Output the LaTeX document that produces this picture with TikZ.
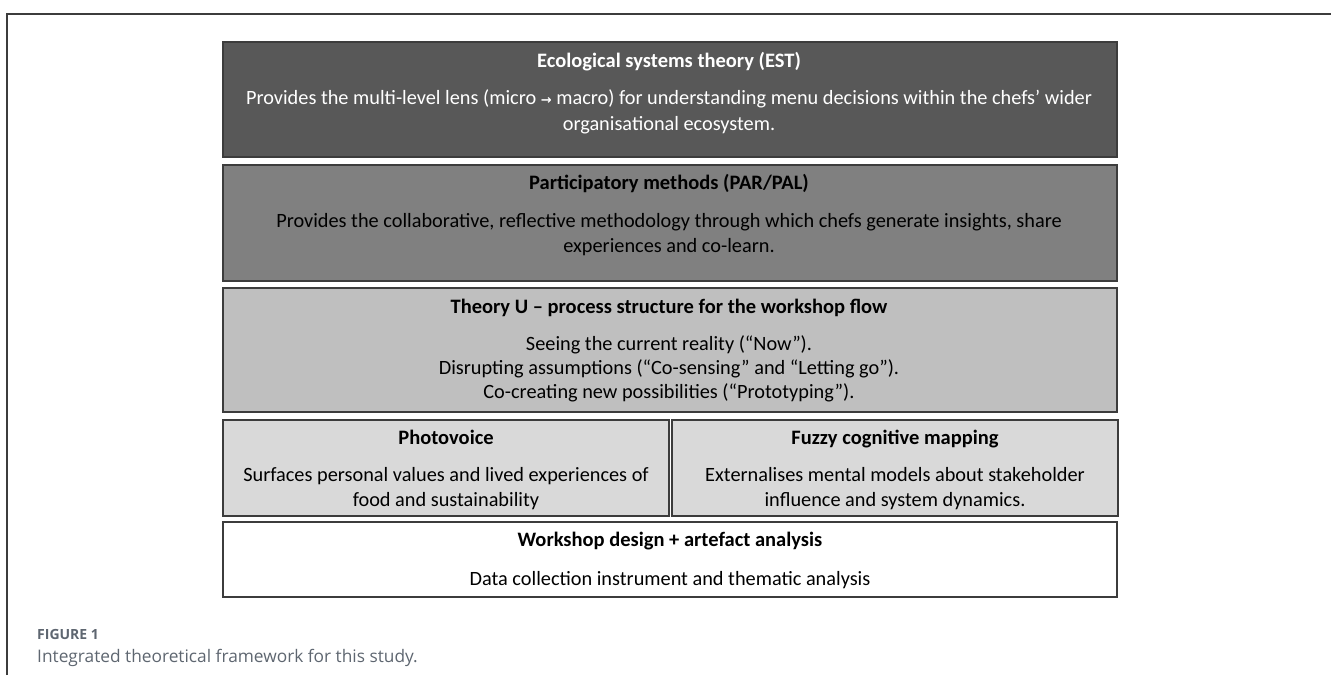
\documentclass[tikz,border=0pt]{standalone}
\usepackage{fontspec}
\usepackage{xcolor}
\setmainfont{Carlito}
\newfontfamily\capfont{Open Sans}
\newfontfamily\arrowfont{DejaVu Sans}
\definecolor{estgrey}{HTML}{585858}
\definecolor{pargrey}{HTML}{808080}
\definecolor{ugrey}{HTML}{BFBFBF}
\definecolor{toolgrey}{HTML}{D9D9D9}
\definecolor{edgegrey}{HTML}{3C3C3C}
\definecolor{capgrey}{HTML}{5E6670}

\begin{document}
\begin{tikzpicture}[x=1pt,y=-1pt,
  layer/.style={draw=edgegrey, line width=1.3pt, inner sep=0pt},
  head/.style={font=\fontsize{20.5}{24}\selectfont\bfseries, inner sep=0pt, anchor=base},
  body/.style={font=\fontsize{20.3}{25}\selectfont, align=center, inner sep=0pt, anchor=base}]
\useasboundingbox (0,0) rectangle (1331,675);
% frame
\draw[edgegrey, line width=1.5pt] (7,675) -- (7,14) -- (1331,14);

% EST (body anchored at its last line)
\node[layer, fill=estgrey, minimum width=894pt, minimum height=115pt] (est) at (670,99.5) {};
\node[head, text=white] (esthead) at (669,67) {Ecological systems theory (EST)};
\node[body, text=white, font=\fontsize{20.3}{26}\selectfont] (estbody) at (669,130) {Provides the multi-level lens (micro {\arrowfont\bfseries\fontsize{13}{13}\selectfont →} macro) for understanding menu decisions within the chefs’ wider\\organisational ecosystem.};

% PAR/PAL
\node[layer, fill=pargrey, minimum width=894pt, minimum height=116pt] (par) at (670,223) {};
\node[head] (parhead) at (669,189) {Participatory methods (PAR/PAL)};
\node[body] (parbody) at (669,252.5) {Provides the collaborative, reflective methodology through which chefs generate insights, share\\experiences and co-learn.};

% Theory U
\node[layer, fill=ugrey, minimum width=894pt, minimum height=124pt] (theoryu) at (670,350) {};
\node[head] (uhead) at (669,313) {Theory U – process structure for the workshop flow};
\node[body, font=\fontsize{20.3}{24.2}\selectfont] (ubody) at (669,398.5) {Seeing the current reality (“Now”).\\Disrupting assumptions (“Co-sensing” and “Letting go”).\\Co-creating new possibilities (“Prototyping”).};

% two tools
\node[layer, fill=toolgrey, minimum width=446pt, minimum height=96pt] (photo) at (446,468) {};
\node[head] (photohead) at (446,444) {Photovoice};
\node[body] (photobody) at (446,506.5) {Surfaces personal values and lived experiences of\\food and sustainability};
\node[layer, fill=toolgrey, minimum width=446pt, minimum height=96pt] (fcm) at (895,468) {};
\node[head] (fcmhead) at (895,444) {Fuzzy cognitive mapping};
\node[body] (fcmbody) at (895,506.5) {Externalises mental models about stakeholder\\influence and system dynamics.};

% workshop
\node[layer, fill=white, minimum width=894pt, minimum height=75pt] (workshop) at (670,559.5) {};
\node[head] (workhead) at (670,546.5) {Workshop design + artefact analysis};
\node[body] (workbody) at (670,585) {Data collection instrument and thematic analysis};

% caption
\node[anchor=base west, inner sep=0pt, text=capgrey, font=\capfont\bfseries\fontsize{14}{16}\selectfont] (figlabel) at (37,639) {FIGURE 1};
\node[anchor=base west, inner sep=0pt, text=capgrey, font=\capfont\fontsize{17.3}{20}\selectfont] (figcaption) at (37,662) {Integrated theoretical framework for this study.};
\end{tikzpicture}
\end{document}
